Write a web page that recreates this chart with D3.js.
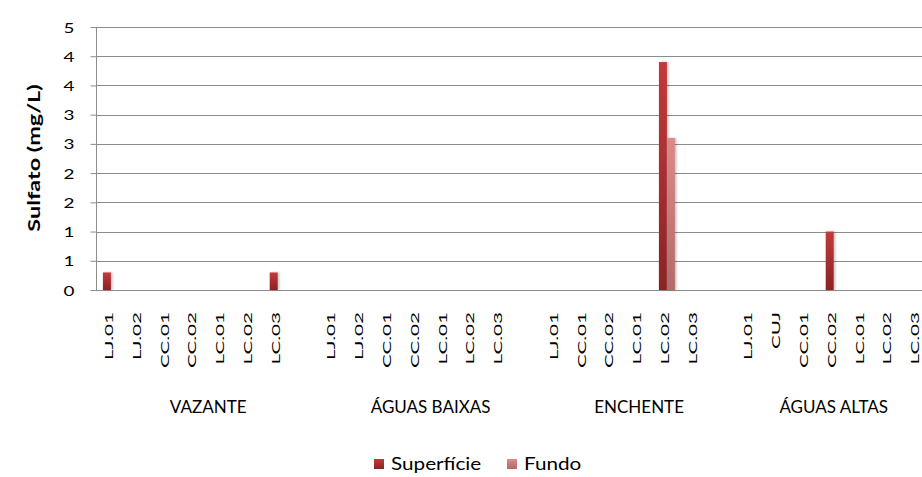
<!DOCTYPE html>
<html>
<head>
<meta charset="utf-8">
<script src="https://cdn.jsdelivr.net/npm/d3@7"></script>
<style>
  body { margin: 0; background: #fff; }
  svg { display: block; font-family: Lato, "Open Sans", sans-serif; }
</style>
</head>
<body>
<svg id="chart" width="922" height="477"></svg>
<script>
// data
var seasons = ["VAZANTE", "ÁGUAS BAIXAS", "ENCHENTE", "ÁGUAS ALTAS"];
var stations = [
    ["LJ.01", "LJ.02", "CC.01", "CC.02", "LC.01", "LC.02", "LC.03"],
    ["LJ.01", "LJ.02", "CC.01", "CC.02", "LC.01", "LC.02", "LC.03"],
    ["LJ.01", "CC.01", "CC.02", "LC.01", "LC.02", "LC.03"],
    ["LJ.01", "CUJ", "CC.01", "CC.02", "LC.01", "LC.02", "LC.03"]
];
var superficie = [
    [0.3, 0, 0, 0, 0, 0, 0.3],
    [0, 0, 0, 0, 0, 0, 0],
    [0, 0, 0, 0, 3.9, 0],
    [0, 0, 0, 1.0, 0, 0, 0]
];
var fundo = [
    [0, 0, 0, 0, 0, 0, 0],
    [0, 0, 0, 0, 0, 0, 0],
    [0, 0, 0, 0, 2.6, 0],
    [0, 0, 0, 0, 0, 0, 0]
];
var yTicks = [0, 0.5, 1, 1.5, 2, 2.5, 3, 3.5, 4, 4.5];
var yTickLabels = ["0", "1", "1", "2", "2", "3", "3", "4", "4", "5"];
var seriesNames = ["Superfície", "Fundo"];

// flatten into slots, with an empty slot after each season except the last
var slots = [];
seasons.forEach(function (s, gi) {
    stations[gi].forEach(function (st, i) {
        slots.push({ id: gi + "-" + i, group: gi, label: st, s: superficie[gi][i], f: fundo[gi][i] });
    });
    if (gi < seasons.length - 1) slots.push({ id: gi + "-gap", group: gi, label: "", s: 0, f: 0 });
});

var plotLeft = 97, slotW = 27.8;
var plotTop = 27, plotBottom = 290;
var gridColor = "#8c8c8c";

var svg = d3.select("#chart");
var defs = svg.append("defs");
function grad(id, c1, c2) {
    var g = defs.append("linearGradient").attr("id", id).attr("x1", 0).attr("x2", 0).attr("y1", 0).attr("y2", 1);
    g.append("stop").attr("offset", "0%").attr("stop-color", c1);
    g.append("stop").attr("offset", "100%").attr("stop-color", c2);
}
grad("gS", "#c4393b", "#8a2424");
grad("gF", "#dc8a8a", "#b36a6a");
var sh = defs.append("filter").attr("id", "sh").attr("x", "-50%").attr("width", "200%");
sh.append("feDropShadow").attr("dx", 1.5).attr("dy", 0).attr("stdDeviation", 1).attr("flood-color", "#000").attr("flood-opacity", 0.25);

var x = d3.scaleBand()
    .domain(slots.map(function (d) { return d.id; }))
    .range([plotLeft, plotLeft + slots.length * slotW])
    .padding(0);
var xi = d3.scaleBand().domain(["s", "f"]).range([0, x.bandwidth()]).paddingInner(0).paddingOuter(0.74);
var y = d3.scaleLinear().domain([0, 4.5]).range([plotBottom, plotTop]);

// gridlines
svg.append("g").selectAll("line")
    .data(yTicks.slice(1))
    .join("line")
    .attr("x1", plotLeft).attr("x2", 922)
    .attr("y1", function (d) { return Math.round(y(d)) + 0.5; })
    .attr("y2", function (d) { return Math.round(y(d)) + 0.5; })
    .attr("stroke", gridColor).attr("stroke-width", 1);

// y axis
var yAxis = svg.append("g")
    .attr("transform", "translate(" + (plotLeft - 0.5) + ",0)")
    .call(d3.axisLeft(y).tickValues(yTicks).tickSize(6).tickPadding(8)
        .tickFormat(function (d, i) { return yTickLabels[i]; }));
yAxis.select(".domain").attr("stroke", gridColor).attr("d", "M0," + plotTop + "V" + plotBottom);
yAxis.selectAll(".tick line").attr("stroke", gridColor);
yAxis.selectAll(".tick text")
    .attr("font-size", 14).attr("fill", "#000").attr("font-family", "Lato")
    .attr("x", null).attr("dy", null)
    .attr("transform", "translate(-22,5) scale(1.35,1)");

// x axis line
svg.append("line")
    .attr("x1", plotLeft - 6).attr("x2", 922)
    .attr("y1", Math.round(y(0)) + 0.5).attr("y2", Math.round(y(0)) + 0.5)
    .attr("stroke", gridColor);

// bars
var bars = svg.append("g");
bars.selectAll("rect.s")
    .data(slots.filter(function (d) { return d.s > 0; }))
    .join("rect").attr("class", "s")
    .attr("x", function (d) { return x(d.id) + xi("s"); })
    .attr("width", xi.bandwidth())
    .attr("y", function (d) { return y(d.s); })
    .attr("height", function (d) { return y(0) - y(d.s); })
    .attr("fill", "url(#gS)").attr("filter", "url(#sh)");
bars.selectAll("rect.f")
    .data(slots.filter(function (d) { return d.f > 0; }))
    .join("rect").attr("class", "f")
    .attr("x", function (d) { return x(d.id) + xi("f"); })
    .attr("width", xi.bandwidth())
    .attr("y", function (d) { return y(d.f); })
    .attr("height", function (d) { return y(0) - y(d.f); })
    .attr("fill", "url(#gF)").attr("filter", "url(#sh)");

// station labels
svg.append("g").selectAll("text")
    .data(slots.filter(function (d) { return d.label; }))
    .join("text")
    .attr("transform", function (d) {
        return "translate(" + (x(d.id) + x.bandwidth() / 2 + 2) + ",312) rotate(-90) scale(1.72,1)";
    })
    .attr("text-anchor", "end")
    .attr("font-size", 12)
    .text(function (d) { return d.label; });

// season labels
svg.append("g").selectAll("text")
    .data(seasons)
    .join("text")
    .attr("x", function (s, gi) {
        var g = slots.filter(function (d) { return d.group === gi; });
        return (x(g[0].id) + x(g[g.length - 1].id) + x.bandwidth()) / 2;
    })
    .attr("y", 413)
    .attr("text-anchor", "middle")
    .attr("font-size", 17)
    .text(function (d) { return d; });

// y title
svg.append("text")
    .attr("transform", "translate(40,158) rotate(-90) scale(1.38,1)")
    .attr("text-anchor", "middle")
    .attr("font-size", 17).attr("font-weight", "bold")
    .text("Sulfato (mg/L)");

// legend
var legend = svg.append("g").attr("transform", "translate(374,459)");
var lx = [0, 133];
seriesNames.forEach(function (n, i) {
    legend.append("rect").attr("x", lx[i]).attr("y", 0).attr("width", 10).attr("height", 10)
        .attr("fill", i === 0 ? "url(#gS)" : "url(#gF)");
    legend.append("text").attr("transform", "translate(" + (lx[i] + 17) + ",11) scale(1.15,1)")
        .attr("font-size", 18).text(n);
});
</script>
</body>
</html>
